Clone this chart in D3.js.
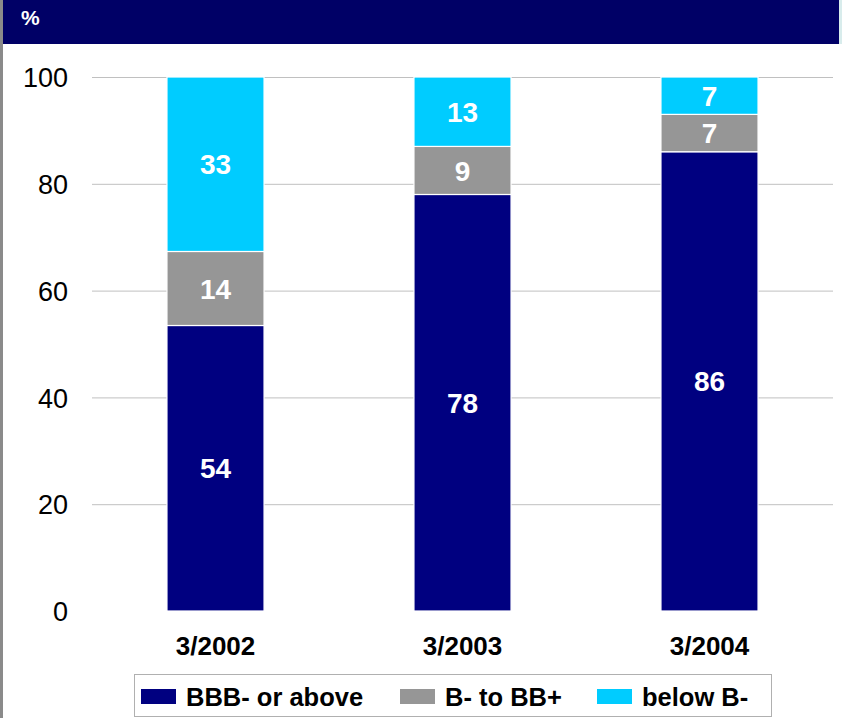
<!DOCTYPE html>
<html>
<head>
<meta charset="utf-8">
<script src="https://d3js.org/d3.v7.min.js"></script>
<style>
  html, body { margin: 0; padding: 0; background: #fff; }
  svg { display: block; font-family: "Liberation Sans", Arial, sans-serif; }
</style>
</head>
<body>
<svg id="chart" width="842" height="718"></svg>
<script>
// Share of exposure by rating band, per reporting date
const categories = ["3/2002", "3/2003", "3/2004"];
const seriesNames = ["BBB- or above", "B- to BB+", "below B-"];
const bbbOrAbove = [54, 78, 86];
const bToBBPlus = [14, 9, 7];
const belowB = [33, 13, 7];
const yTicks = [0, 20, 40, 60, 80, 100];
const colors = ["#000080", "#969696", "#00CCFF"];

const rows = categories.map((c, i) => ({
  cat: c,
  [seriesNames[0]]: bbbOrAbove[i],
  [seriesNames[1]]: bToBBPlus[i],
  [seriesNames[2]]: belowB[i]
}));

const svg = d3.select("#chart");
const W = 842, H = 718;

// frame: left rule, header band
svg.append("rect").attr("x", 0).attr("y", 0).attr("width", 3).attr("height", H).attr("fill", "#8a8a8a");
svg.append("rect").attr("x", 3).attr("y", 0).attr("width", 836).attr("height", 44).attr("fill", "#000066");
svg.append("rect").attr("x", 839).attr("y", 0).attr("width", 3).attr("height", 44).attr("fill", "#d8ecec");
svg.append("text").attr("x", 21).attr("y", 25).attr("fill", "#fff")
  .attr("font-size", 21).attr("font-weight", "bold").text("%");

const plotLeft = 92, plotRight = 833, plotTop = 77, plotBottom = 611;

const x = d3.scaleBand().domain(categories).range([plotLeft, plotRight])
  .paddingInner(0.607).paddingOuter(0.3035);
const y = d3.scaleLinear().domain([0, 100]).range([plotBottom, plotTop]);

// gridlines
svg.append("g").selectAll("line").data(yTicks.filter(t => t > 0)).join("line")
  .attr("x1", plotLeft).attr("x2", plotRight)
  .attr("y1", d => y(d) + 0.5).attr("y2", d => y(d) + 0.5)
  .attr("stroke", "#c0c0c0").attr("stroke-width", 1);

// y axis labels
const yAxis = d3.axisLeft(y).tickValues(yTicks).tickSize(0).tickPadding(0).tickFormat(d3.format("d"));
const gy = svg.append("g").attr("transform", "translate(68,0)").call(yAxis);
gy.select(".domain").remove();
gy.selectAll("text").attr("font-size", 27).attr("fill", "#000")
  .attr("font-family", "Liberation Sans, Arial, sans-serif").attr("dy", "0.36em");

// stacked bars normalised to 100%
const stack = d3.stack().keys(seriesNames).offset(d3.stackOffsetExpand);
const layers = stack(rows);

const g = svg.append("g");
layers.forEach((layer, li) => {
  const lg = g.append("g");
  lg.selectAll("rect").data(layer).join("rect")
    .attr("x", d => x(d.data.cat))
    .attr("width", x.bandwidth())
    .attr("y", d => y(d[1] * 100))
    .attr("height", d => y(d[0] * 100) - y(d[1] * 100))
    .attr("fill", colors[li])
    .attr("stroke", "#fff").attr("stroke-width", 1.2);
  lg.selectAll("text").data(layer).join("text")
    .attr("x", d => x(d.data.cat) + x.bandwidth() / 2)
    .attr("y", d => y((d[0] + d[1]) / 2 * 100))
    .attr("dy", "0.36em")
    .attr("text-anchor", "middle")
    .attr("fill", "#fff").attr("font-size", 28).attr("font-weight", "bold")
    .text(d => d.data[layer.key]);
});

// x axis labels
const xAxis = d3.axisBottom(x).tickSize(0).tickPadding(0);
const gx = svg.append("g").attr("transform", "translate(0,636)").call(xAxis);
gx.select(".domain").remove();
gx.selectAll("text").attr("font-size", 26).attr("font-weight", "bold").attr("fill", "#000")
  .attr("font-family", "Liberation Sans, Arial, sans-serif").attr("dy", "0.72em");

// legend
const legend = svg.append("g");
legend.append("rect").attr("x", 134.5).attr("y", 674.5).attr("width", 637).attr("height", 42)
  .attr("fill", "#fff").attr("stroke", "#b0b0b0").attr("stroke-width", 1);
const legendX = [141, 400, 597];
seriesNames.forEach((name, i) => {
  legend.append("rect").attr("x", legendX[i]).attr("y", 689).attr("width", 35).attr("height", 15)
    .attr("fill", colors[i]);
  legend.append("text").attr("x", legendX[i] + 45).attr("y", 706)
    .attr("font-size", 25.5).attr("font-weight", "bold").attr("fill", "#000").text(name);
});
</script>
</body>
</html>
